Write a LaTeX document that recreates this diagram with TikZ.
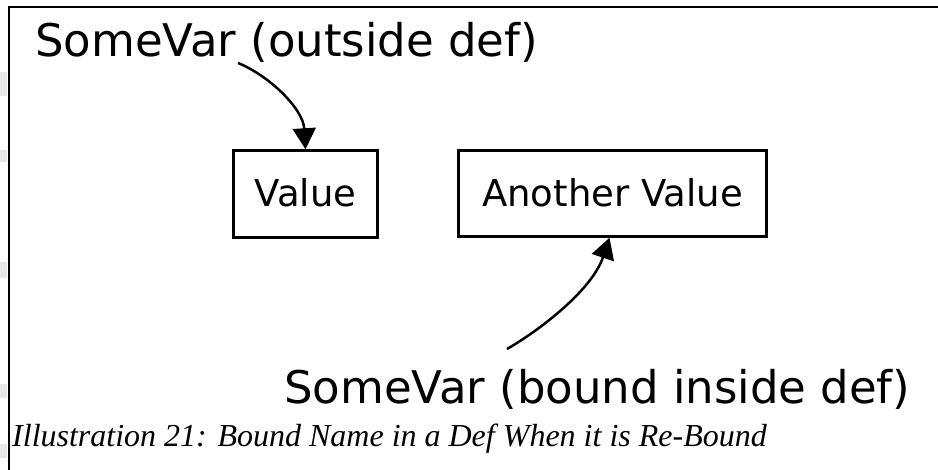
\documentclass[tikz,border=0pt]{standalone}
\usepackage{fontspec}
\setmainfont{DejaVu Sans}
\newfontfamily\capfont{Liberation Serif}
\usetikzlibrary{arrows.meta}
\tikzset{
  frameline/.style={line width=2.5pt},
  bigtext/.style={anchor=base west, inner sep=0pt, font=\fontsize{45}{54}\selectfont},
  valbox/.style={draw, line width=2.5pt, inner sep=0pt, text height=26pt, text depth=0pt,
    font=\fontsize{37}{44}\selectfont},
  ptr/.style={line width=2.5pt, -{Triangle[length=21pt,width=23pt]}},
  smudge/.style={fill=gray!18, draw=none}
}
\begin{document}
\begin{tikzpicture}[x=1pt, y=-1pt]
\useasboundingbox (0,0) rectangle (938,470);
\fill[white] (0,0) rectangle (938,470);
% faint page-edge artefacts on the left
\fill[smudge] (0,72) rectangle (7,96);
\fill[smudge] (0,150) rectangle (7,162);
\fill[smudge] (0,262) rectangle (7,278);
\fill[smudge] (0,384) rectangle (7,398);
\fill[smudge] (0,444) rectangle (7,458);
% frame
\draw[frameline] (938,7) -- (9,7) -- (9,470);
% labels
\node[bigtext] (outer) at (35,57) {SomeVar (outside def)};
\node[bigtext] (inner) at (284,404) {SomeVar (bound inside def)};
% boxes
\node[valbox, minimum width=144pt, minimum height=87pt] (val) at (305.5,194) {Value};
\node[valbox, minimum width=308pt, minimum height=86pt] (av) at (612.5,193.5) {Another Value};
% connectors
\coordinate (s1) at (238,63);
\coordinate (s2) at (507,349);
\draw[ptr] (s1) .. controls (268,75) and (303,108) .. (val.north);
\draw[ptr] (s2) .. controls (540,330) and (592,290) .. ([xshift=-3pt]av.south);
% caption
\node[anchor=base west, inner sep=0pt, font=\capfont\itshape\fontsize{32}{38}\selectfont] (cap) at (12,447)
  {Illustration 21: Bound Name in a Def When it is Re-Bound};
\end{tikzpicture}
\end{document}
